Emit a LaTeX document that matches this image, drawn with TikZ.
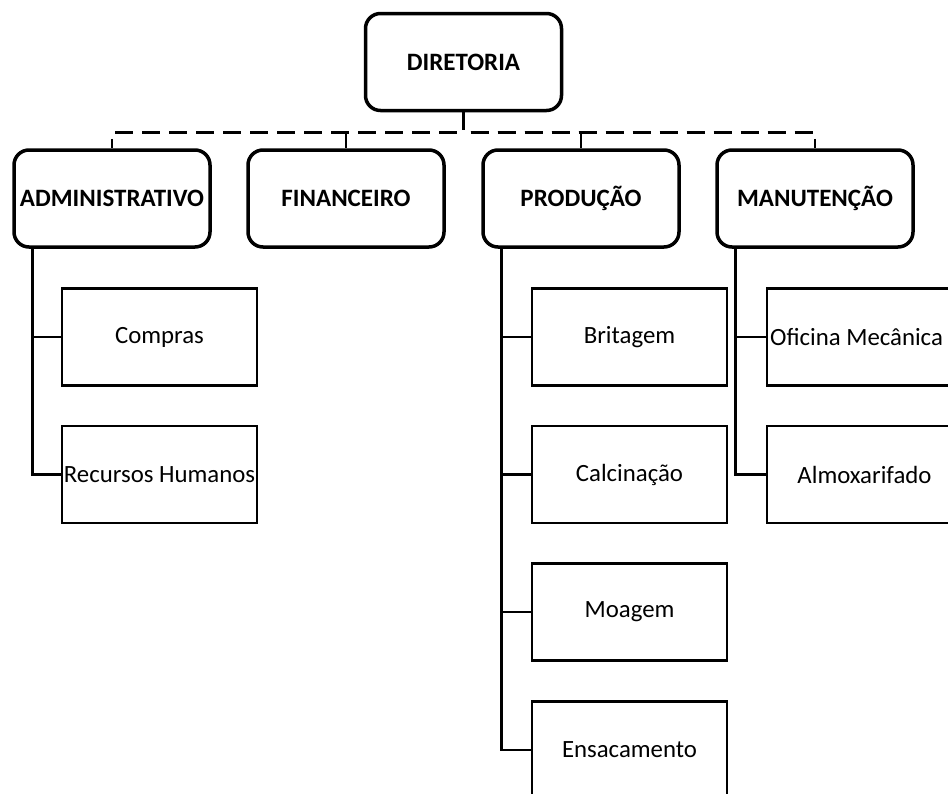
\documentclass[tikz,border=0pt]{standalone}
\usepackage{fontspec}
\setmainfont{Carlito}
\begin{document}
\begin{tikzpicture}[x=1pt,y=-1pt,
  unit/.style={draw, line width=3.5pt, rounded corners=15pt, minimum width=196pt,
    minimum height=97pt, inner sep=0pt, font=\fontsize{25}{29}\selectfont\bfseries},
  subunit/.style={draw, line width=2.7pt, minimum width=195pt, minimum height=97pt,
    inner sep=0pt, font=\fontsize{24.8}{29}\selectfont},
  link/.style={line width=2.5pt},
  dlink/.style={line width=2.5pt, dash pattern=on 18pt off 9pt}]
  % page frame
  \fill[white] (0,0) rectangle (948,793);
  \useasboundingbox (0,0) rectangle (948,793);

  % top level
  \node[unit] (dir) at (463.5,62) {DIRETORIA};

  % departments
  \node[unit] (adm) at (112,198.5) {ADMINISTRATIVO};
  \node[unit] (fin) at (346,198.5) {FINANCEIRO};
  \node[unit] (pro) at (581,198.5) {PRODUÇÃO};
  \node[unit] (man) at (815,198.5) {MANUTENÇÃO};

  % sections
  \node[subunit] (com) at (159.5,337)   {Compras};
  \node[subunit] (rh)  at (159.5,474.5) {Recursos Humanos};
  \node[subunit] (bri) at (629.5,337)   {Britagem};
  \node[subunit] (cal) at (629.5,474.5) {Calcinação};
  \node[subunit] (moa) at (629.5,612)   {Moagem};
  \node[subunit] (ens) at (629.5,750)   {Ensacamento};
  \node[subunit] (ofi) at (864.5,337)   {Oficina Mecânica\hspace*{16pt}};
  \node[subunit] (alm) at (864.5,474.5) {Almoxarifado};

  % dashed links from the board to the departments
  \foreach \d in {adm,fin,pro,man}
    \draw[dlink] (dir.south) -- ([yshift=-20pt]dir.south) -| (\d.north);

  % solid links from departments to sections
  \foreach \p/\s in {adm/com, adm/rh, pro/bri, pro/cal, pro/moa, pro/ens, man/ofi, man/alm}
    \draw[link] ([xshift=20pt]\p.south west) |- (\s.west);
\end{tikzpicture}
\end{document}
